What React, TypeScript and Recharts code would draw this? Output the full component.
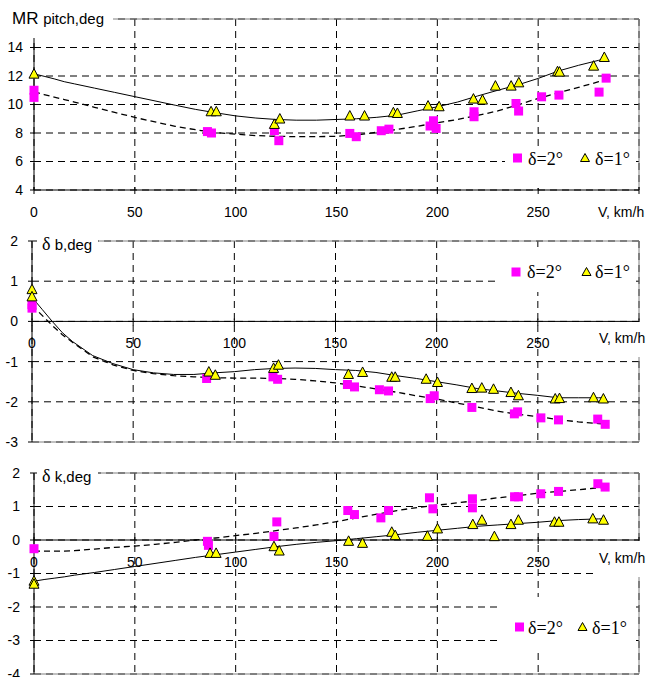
import React from 'react';
import { ComposedChart, Line, Scatter, XAxis, YAxis, CartesianGrid, ReferenceLine } from 'recharts';

// ---------- shared ----------
const X_TICKS = [0, 50, 100, 150, 200, 250, 300];
const FIT_V = [0, 5, 10, 15, 20, 30, 40, 50, 60, 70, 80, 90, 100, 110, 120, 130, 140, 150, 160, 170, 180, 190, 200, 210, 220, 230, 240, 250, 260, 270, 280, 283];
const LEGEND_LABELS = ['δ=2°', 'δ=1°'];

// ---------- panel 1: MR pitch ----------
const PITCH_TICKS = [4, 6, 8, 10, 12, 14];
const PITCH_SQ_V = [0, 0, 86, 88, 119.2, 121.4, 156.6, 159.8, 172.2, 176, 196.4, 198.1, 199.4, 218.2, 218.2, 239, 240.3, 251.7, 260.3, 280.2, 283.7];
const PITCH_SQ = [11.0, 10.5, 8.1, 8.0, 8.16, 7.46, 7.97, 7.74, 8.16, 8.27, 8.49, 8.86, 8.32, 9.49, 9.14, 10.07, 9.54, 10.54, 10.66, 10.87, 11.85];
const PITCH_TRI_V = [0, 87.8, 90.4, 119.2, 121.9, 156.6, 163.9, 178.2, 180.2, 195.4, 200.9, 217.9, 222.4, 228.8, 236.6, 240.4, 259.6, 260.6, 277.5, 282.8];
const PITCH_TRI = [12.13, 9.49, 9.49, 8.6, 8.98, 9.19, 9.19, 9.42, 9.37, 9.89, 9.84, 10.38, 10.31, 11.29, 11.29, 11.52, 12.3, 12.27, 12.69, 13.3];
const PITCH_FIT1 = [12.15, 11.98, 11.8, 11.6, 11.45, 11.15, 10.85, 10.55, 10.25, 9.95, 9.66, 9.42, 9.2, 9.05, 8.95, 8.9, 8.9, 8.95, 9.0, 9.1, 9.25, 9.55, 9.84, 10.17, 10.6, 11.0, 11.38, 11.83, 12.35, 12.75, 13.1, 13.2];
const PITCH_FIT2 = [10.88, 10.7, 10.52, 10.35, 10.17, 9.8, 9.45, 9.09, 8.78, 8.47, 8.23, 8.03, 7.92, 7.82, 7.77, 7.74, 7.74, 7.77, 7.87, 8.05, 8.25, 8.47, 8.72, 8.95, 9.23, 9.55, 9.98, 10.43, 10.82, 11.2, 11.6, 11.71];

// ---------- panel 2: δ b ----------
const DB_TICKS = [-3, -2, -1, 0, 1, 2];
const DB_SQ_V = [0, 0, 86.3, 119.1, 121.4, 155.9, 159.4, 171.7, 176.2, 196.8, 198.8, 217.4, 238.4, 240, 251.5, 260.2, 279.6, 283.3];
const DB_SQ = [0.42, 0.33, -1.42, -1.38, -1.44, -1.57, -1.63, -1.7, -1.73, -1.92, -1.85, -2.14, -2.3, -2.25, -2.4, -2.45, -2.43, -2.56];
const DB_TRI_V = [0, 0, 87.4, 90.6, 119.4, 121.8, 156.4, 163.4, 177.8, 179.5, 194.8, 200.4, 217.4, 222.3, 228.1, 236.7, 240.4, 258.6, 260.7, 277.5, 282.4];
const DB_TRI = [0.79, 0.61, -1.26, -1.34, -1.17, -1.09, -1.32, -1.27, -1.39, -1.39, -1.44, -1.52, -1.67, -1.66, -1.69, -1.77, -1.85, -1.93, -1.92, -1.9, -1.93];
const DB_FIT1 = [0.6, 0.3, 0.0, -0.28, -0.5, -0.85, -1.05, -1.2, -1.28, -1.32, -1.32, -1.28, -1.25, -1.2, -1.17, -1.16, -1.17, -1.2, -1.22, -1.27, -1.35, -1.42, -1.5, -1.58, -1.67, -1.73, -1.79, -1.84, -1.9, -1.9, -1.9, -1.9];
const DB_FIT2 = [0.4, 0.15, -0.1, -0.33, -0.52, -0.88, -1.08, -1.22, -1.3, -1.35, -1.38, -1.4, -1.41, -1.41, -1.42, -1.44, -1.48, -1.53, -1.6, -1.68, -1.76, -1.85, -1.93, -2.03, -2.13, -2.23, -2.31, -2.37, -2.44, -2.5, -2.54, -2.55];

// ---------- panel 3: δ k ----------
const DK_TICKS = [-4, -3, -2, -1, 0, 1, 2];
const DK_SQ_V = [0, 86, 86.5, 119, 120.4, 155.6, 158.9, 172, 175.8, 196.1, 197.8, 217.4, 217.4, 238.3, 240.2, 251.3, 260.1, 279.6, 283.2];
const DK_SQ = [-0.26, -0.04, -0.16, 0.11, 0.54, 0.88, 0.76, 0.66, 0.88, 1.26, 0.93, 1.23, 0.96, 1.29, 1.29, 1.38, 1.45, 1.68, 1.58];
const DK_TRI_V = [0, 0, 87.3, 90.3, 119, 121.6, 156, 162.9, 177.4, 179.1, 195.1, 200.1, 217.6, 222.1, 228.3, 236.5, 240.2, 258.1, 260.3, 277.1, 282.4];
const DK_TRI = [-1.23, -1.32, -0.4, -0.4, -0.2, -0.33, -0.04, -0.1, 0.23, 0.13, 0.11, 0.33, 0.46, 0.59, 0.1, 0.46, 0.59, 0.53, 0.53, 0.63, 0.59];
const DK_FIT1 = [-1.23, -1.18, -1.14, -1.1, -1.05, -0.97, -0.88, -0.79, -0.7, -0.61, -0.52, -0.44, -0.36, -0.28, -0.2, -0.13, -0.07, -0.02, 0.04, 0.1, 0.16, 0.23, 0.29, 0.35, 0.41, 0.45, 0.49, 0.53, 0.58, 0.61, 0.63, 0.63];
const DK_FIT2 = [-0.33, -0.33, -0.33, -0.33, -0.32, -0.27, -0.22, -0.18, -0.13, -0.07, 0.0, 0.06, 0.13, 0.2, 0.28, 0.36, 0.45, 0.55, 0.66, 0.77, 0.88, 0.97, 1.04, 1.11, 1.18, 1.26, 1.32, 1.4, 1.45, 1.5, 1.56, 1.58];

const SANS = 'Liberation Sans, Arial, sans-serif';
const SERIF = 'Liberation Serif, Times New Roman, Times, serif';
const MAGENTA = '#FF00FF';
const YELLOW = '#FFFF00';
const BORDER = '#808080';

const zip = (xs: number[], ys: number[]) => xs.map((x, i) => ({ x, y: ys[i] }));

const SquareShape = (props: any) => {
  const { cx, cy } = props;
  if (cx == null || cy == null) return null;
  return <rect x={cx - 4.5} y={cy - 4.5} width={9} height={9} fill={MAGENTA} />;
};
const TriShape = (props: any) => {
  const { cx, cy } = props;
  if (cx == null || cy == null) return null;
  return (
    <polygon
      points={`${cx},${cy - 5.5} ${cx - 5},${cy + 4} ${cx + 5},${cy + 4}`}
      fill={YELLOW}
      stroke="#000"
      strokeWidth={1}
    />
  );
};

type PanelProps = {
  top: number;
  height: number;
  plotTop: number;
  plotBottom: number;
  plotLeft: number;
  yMin: number;
  yMax: number;
  yTicks: number[];
  cross: number;
  tickMargin: number;
  sq: { x: number; y: number }[];
  tri: { x: number; y: number }[];
  fit1: { x: number; y: number }[];
  fit2: { x: number; y: number }[];
};

function Panel(p: PanelProps) {
  const marginTop = p.plotTop - p.top;
  const plotH = p.plotBottom - p.plotTop;
  const xAxisH = Math.max(1, p.top + p.height - p.plotBottom);
  const crossY = marginTop + ((p.yMax - p.cross) / (p.yMax - p.yMin)) * plotH;
  const renderXTick = (props: any) => {
    const { x, payload } = props;
    const v = payload.value;
    return (
      <g>
        <line x1={x} x2={x} y1={crossY - 3} y2={crossY + 4} stroke="#000" />
        {v < 300 && (
          <text x={x} y={crossY + 27} textAnchor="middle" fill="#000" style={{ fontSize: 14, fontFamily: SANS }}>
            {v}
          </text>
        )}
      </g>
    );
  };
  return (
    <div style={{ position: 'absolute', left: 0, top: p.top }}>
      <ComposedChart
        width={653}
        height={p.height}
        margin={{ top: marginTop, right: 14, bottom: p.top + p.height - p.plotBottom - xAxisH, left: 0 }}
      >
        <CartesianGrid stroke="#000" strokeDasharray="7 5" />
        <XAxis
          type="number"
          dataKey="x"
          domain={[0, 300]}
          ticks={X_TICKS}
          interval={0}
          axisLine={false}
          tickLine={false}
          height={xAxisH}
          tick={renderXTick}
        />
        <YAxis
          type="number"
          dataKey="y"
          domain={[p.yMin, p.yMax]}
          ticks={p.yTicks}
          interval={0}
          width={p.plotLeft}
          axisLine={{ stroke: '#000' }}
          tickLine={{ stroke: '#000' }}
          tickSize={4}
          tickMargin={p.tickMargin}
          tick={{ fill: '#000', fontSize: 14, fontFamily: SANS }}
        />
        <ReferenceLine y={p.yMax} stroke={BORDER} />
        <ReferenceLine x={300} stroke={BORDER} />
        {p.cross !== p.yMin && <ReferenceLine y={p.yMin} stroke={BORDER} />}
        <ReferenceLine y={p.cross} stroke="#000" />
        <Scatter name={LEGEND_LABELS[0]} data={p.sq} shape={SquareShape} isAnimationActive={false} />
        <Scatter name={LEGEND_LABELS[1]} data={p.tri} shape={TriShape} isAnimationActive={false} />
        <Line
          data={p.fit2}
          dataKey="y"
          type="linear"
          stroke="#000"
          strokeWidth={1.3}
          strokeDasharray="6 4"
          dot={false}
          activeDot={false}
          isAnimationActive={false}
        />
        <Line
          data={p.fit1}
          dataKey="y"
          type="linear"
          stroke="#000"
          strokeWidth={1}
          dot={false}
          activeDot={false}
          isAnimationActive={false}
        />
      </ComposedChart>
    </div>
  );
}

const serifStyle = { fontFamily: SERIF, fontSize: 18 };
const sansTitle = { fontFamily: SANS, fontSize: 15 };

function LegendBox({ x, y, w, h, sqX, sqY, t1X, triX, t2X, base }: any) {
  return (
    <g>
      <rect x={x} y={y} width={w} height={h} fill="#fff" />
      <rect x={sqX} y={sqY - 4.5} width={9} height={9} fill={MAGENTA} />
      <text x={t1X} y={base} fill="#000" style={serifStyle}>
        {LEGEND_LABELS[0]}
      </text>
      <polygon
        points={`${triX},${sqY - 4.5} ${triX - 4.5},${sqY + 3.5} ${triX + 4.5},${sqY + 3.5}`}
        fill={YELLOW}
        stroke="#000"
      />
      <text x={t2X} y={base} fill="#000" style={serifStyle}>
        {LEGEND_LABELS[1]}
      </text>
    </g>
  );
}

export default function App() {
  return (
    <div style={{ position: 'absolute', left: 0, top: 0, width: 653, height: 677, background: '#fff', overflow: 'hidden' }}>
      <Panel
        top={0}
        height={226}
        plotTop={19}
        plotBottom={190}
        plotLeft={34}
        yMin={4}
        yMax={16}
        yTicks={PITCH_TICKS}
        cross={4}
        tickMargin={7}
        sq={zip(PITCH_SQ_V, PITCH_SQ)}
        tri={zip(PITCH_TRI_V, PITCH_TRI)}
        fit1={zip(FIT_V, PITCH_FIT1)}
        fit2={zip(FIT_V, PITCH_FIT2)}
      />
      <Panel
        top={226}
        height={226}
        plotTop={241}
        plotBottom={442}
        plotLeft={32}
        yMin={-3}
        yMax={2}
        yTicks={DB_TICKS}
        cross={0}
        tickMargin={10}
        sq={zip(DB_SQ_V, DB_SQ)}
        tri={zip(DB_TRI_V, DB_TRI)}
        fit1={zip(FIT_V, DB_FIT1)}
        fit2={zip(FIT_V, DB_FIT2)}
      />
      <Panel
        top={452}
        height={225}
        plotTop={473}
        plotBottom={674}
        plotLeft={34}
        yMin={-4}
        yMax={2}
        yTicks={DK_TICKS}
        cross={0}
        tickMargin={10}
        sq={zip(DK_SQ_V, DK_SQ)}
        tri={zip(DK_TRI_V, DK_TRI)}
        fit1={zip(FIT_V, DK_FIT1)}
        fit2={zip(FIT_V, DK_FIT2)}
      />
      <svg
        width={653}
        height={677}
        style={{ position: 'absolute', left: 0, top: 0, pointerEvents: 'none' }}
      >
        {/* axis titles */}
        <rect x={10} y={6} width={103} height={32} fill="#fff" />
        <text x={12} y={24} fill="#000" style={{ fontFamily: SANS }}>
          <tspan style={{ fontSize: 17 }}>MR </tspan>
          <tspan style={{ fontSize: 15 }}>pitch,deg</tspan>
        </text>
        <rect x={37} y={232} width={61} height={20} fill="#fff" />
        <text x={42} y={250} fill="#000">
          <tspan style={serifStyle}>δ</tspan>
          <tspan style={sansTitle}> b,deg</tspan>
        </text>
        <rect x={37} y={464} width={61} height={20} fill="#fff" />
        <text x={42} y={482} fill="#000">
          <tspan style={serifStyle}>δ</tspan>
          <tspan style={sansTitle}> k,deg</tspan>
        </text>
        {/* V axis labels */}
        <text x={598} y={217} fill="#000" style={{ fontFamily: SANS, fontSize: 14 }}>V, km/h</text>
        <rect x={595} y={322} width={58} height={35} fill="#fff" />
        <text x={599} y={343} fill="#000" style={{ fontFamily: SANS, fontSize: 14 }}>V, km/h</text>
        <rect x={595} y={541} width={58} height={36} fill="#fff" />
        <text x={599} y={563} fill="#000" style={{ fontFamily: SANS, fontSize: 14 }}>V, km/h</text>
        {/* legends */}
        <LegendBox x={505} y={148} w={131} h={40} sqX={513} sqY={158} t1X={528} triX={585} t2X={595} base={165} />
        <LegendBox x={500} y={247} w={136} h={45} sqX={511.5} sqY={272} t1X={527} triX={586.5} t2X={595} base={278} />
        <LegendBox x={502} y={597} w={134} h={51} sqX={515} sqY={627} t1X={528} triX={582.5} t2X={592} base={634} />
      </svg>
    </div>
  );
}
